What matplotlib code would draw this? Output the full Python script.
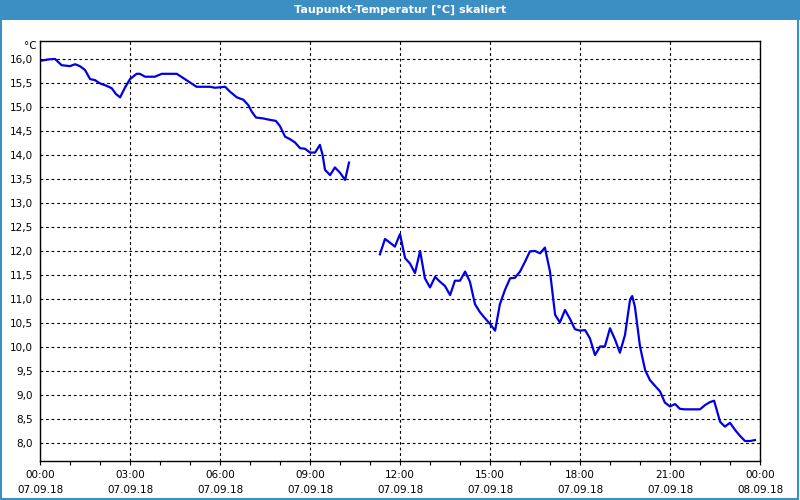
import numpy as np
import matplotlib
matplotlib.use('Agg')
import matplotlib.pyplot as plt
from matplotlib.patches import Rectangle

title = 'Taupunkt-Temperatur [°C] skaliert'
unit = '°C'

# time in hours since 07.09.18 00:00, nan = gap in the record
hours = [0.0, 0.28, 0.5, 0.72, 1.0, 1.17, 1.33, 1.5, 1.67, 1.83, 2.0, 2.22, 2.39, 2.53, 2.67,
         2.83, 3.0, 3.22, 3.33, 3.5, 3.83, 4.06, 4.56, 4.78, 5.0, 5.22, 5.67, 5.83, 6.17, 6.33,
         6.56, 6.78, 6.94, 7.06, 7.2, 7.44, 7.67, 7.86, 8.0, 8.17, 8.33, 8.5, 8.67, 8.83, 9.0,
         9.17, 9.33, 9.42, 9.5, 9.67, 9.83, 10.0, 10.17, 10.3,
         11.0,
         11.33, 11.5, 11.67, 11.83, 12.0, 12.17, 12.33, 12.5, 12.67, 12.83, 13.0, 13.17, 13.33,
         13.5, 13.67, 13.83, 14.0, 14.17, 14.33, 14.5, 14.67, 14.83, 15.0, 15.17, 15.33, 15.5,
         15.67, 15.83, 16.0, 16.17, 16.33, 16.5, 16.67, 16.83, 17.0, 17.17, 17.33, 17.5, 17.67,
         17.83, 18.0, 18.17, 18.33, 18.5, 18.67, 18.83, 19.0, 19.17, 19.33, 19.5, 19.67, 19.74,
         19.83, 20.0, 20.17, 20.33, 20.5, 20.67, 20.83, 21.0, 21.17, 21.33, 21.5, 22.0, 22.17,
         22.33, 22.47, 22.67, 22.83, 23.0, 23.17, 23.33, 23.5, 23.67, 23.83]
temp = [15.96, 15.99, 16.0, 15.87, 15.85, 15.89, 15.85, 15.77, 15.58, 15.56, 15.49, 15.44, 15.39,
        15.27, 15.20, 15.40, 15.58, 15.69, 15.69, 15.63, 15.63, 15.69, 15.69, 15.60, 15.51,
        15.42, 15.42, 15.40, 15.42, 15.32, 15.20, 15.15, 15.04, 14.90, 14.78, 14.76, 14.73,
        14.71, 14.60, 14.38, 14.33, 14.26, 14.14, 14.13, 14.05, 14.05, 14.21, 14.0, 13.69,
        13.58, 13.74, 13.63, 13.48, 13.84,
        np.nan,
        11.93, 12.25, 12.17, 12.09, 12.35, 11.85, 11.74, 11.54, 12.0, 11.43, 11.24, 11.46,
        11.36, 11.27, 11.08, 11.38, 11.38, 11.57, 11.36, 10.89, 10.72, 10.60, 10.48, 10.34,
        10.89, 11.19, 11.43, 11.44, 11.57, 11.78, 11.99, 12.0, 11.95, 12.07, 11.57, 10.67,
        10.51, 10.77, 10.58, 10.37, 10.34, 10.35, 10.18, 9.83, 10.01, 10.01, 10.39, 10.15,
        9.88, 10.25, 10.99, 11.06, 10.84, 10.01, 9.52, 9.31, 9.19, 9.07, 8.84, 8.76, 8.81,
        8.71, 8.70, 8.70, 8.79, 8.85, 8.88, 8.44, 8.34, 8.42, 8.27, 8.15, 8.04, 8.04, 8.06]

tick_hours = [0, 3, 6, 9, 12, 15, 18, 21, 24]
tick_labels = ['00:00\n07.09.18', '03:00\n07.09.18', '06:00\n07.09.18', '09:00\n07.09.18',
               '12:00\n07.09.18', '15:00\n07.09.18', '18:00\n07.09.18', '21:00\n07.09.18',
               '00:00\n08.09.18']
y_ticks = [8.0, 8.5, 9.0, 9.5, 10.0, 10.5, 11.0, 11.5, 12.0, 12.5, 13.0, 13.5, 14.0, 14.5,
           15.0, 15.5, 16.0]

plt.rcParams['font.family'] = 'DejaVu Sans'
plt.rcParams['font.size'] = 7.5

fig = plt.figure(figsize=(8, 5), dpi=100)
fig.patch.set_facecolor('white')

# blue title bar and frame round the whole picture
fig.patches.append(Rectangle((0, 0.96), 1, 0.04, transform=fig.transFigure,
                             facecolor='#3c8fc3', edgecolor='none'))
fig.patches.append(Rectangle((0.001, 0.002), 0.997, 0.996, transform=fig.transFigure,
                             facecolor='none', edgecolor='#3c8fc3', lw=1.5))
fig.text(0.5, 0.98, title, color='white', fontweight='bold', ha='center', va='center',
         fontsize=8)

ax = fig.add_axes([0.05, 0.0786, 0.9, 0.84])
ax.plot(hours, temp, color='#0000e6', lw=1.6)

ax.set_xlim(0, 24)
ax.set_ylim(7.63, 16.38)
ax.set_xticks(tick_hours)
ax.set_xticklabels(tick_labels, linespacing=1.6)
ax.set_xticks(range(25), minor=True)
ax.set_yticks(y_ticks)
ax.set_yticklabels([f'{v:.1f}'.replace('.', ',') for v in y_ticks])
ax.tick_params(axis='x', which='both', length=3, width=0.8, direction='out', pad=4)
ax.tick_params(axis='y', length=0, pad=5)
ax.grid(True, which='major', color='black', linestyle=(0, (2.5, 2.5)), lw=0.8)
for s in ax.spines.values():
    s.set_linewidth(1)
ax.text(-0.005, 1.0, unit, transform=ax.transAxes, ha='right', va='top')

plt.savefig('out.png', dpi=100)
